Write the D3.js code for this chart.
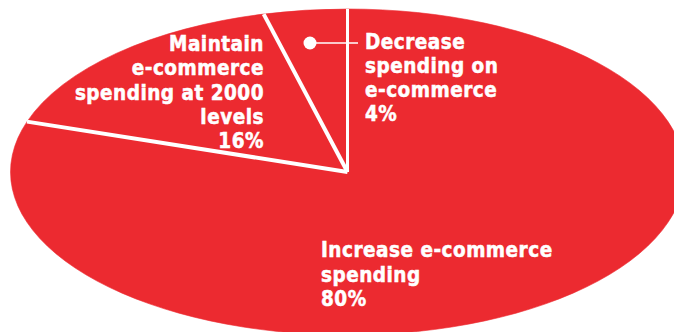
<!DOCTYPE html>
<html>
<head>
<meta charset="utf-8">
<script src="https://cdn.jsdelivr.net/npm/d3@7/dist/d3.min.js"></script>
<style>
  html, body { margin: 0; padding: 0; background: #fff; }
  svg { display: block; }
  .lbl { font-family: "DejaVu Sans Condensed", "DejaVu Sans", sans-serif; font-weight: bold; fill: #fff; stroke: #fff; stroke-width: 0.5; }
</style>
</head>
<body>
<svg id="chart" width="674" height="332"></svg>
<script>
// Survey answers: plans for e-commerce spending
const categories = ["Increase e-commerce spending", "Maintain e-commerce spending at 2000 levels", "Decrease spending on e-commerce"];
const shares = [80, 16, 4];
const labelLines = [
  ["Increase e-commerce", "spending", "80%"],
  ["Maintain", "e-commerce", "spending at 2000", "levels", "16%"],
  ["Decrease", "spending on", "e-commerce", "4%"]
];

const W = 674, H = 332;
const cx = 347.5, cy = 172, rx = 337, ry = 163;
const RED = "#EC2A30";

const svg = d3.select("#chart");

const pie = d3.pie().sort(null).value(d => d);
const arcs = pie(shares);

// Slices drawn on a unit circle, stretched into an ellipse
const arc = d3.arc().innerRadius(0).outerRadius(1);
const g = svg.append("g").attr("transform", `translate(${cx},${cy}) scale(${rx},${ry})`);
g.selectAll("path.slice")
  .data(arcs)
  .join("path")
  .attr("class", "slice")
  .attr("d", arc)
  .attr("fill", RED)
  .attr("stroke", RED)
  .attr("stroke-width", 0.6)
  .attr("vector-effect", "non-scaling-stroke");

// White separators along each slice boundary
const px = a => cx + rx * Math.sin(a);
const py = a => cy - ry * Math.cos(a);
svg.selectAll("line.sep")
  .data(arcs)
  .join("line")
  .attr("class", "sep")
  .attr("x1", cx).attr("y1", cy)
  .attr("x2", d => px(d.startAngle)).attr("y2", d => py(d.startAngle))
  .attr("stroke", "#fff")
  .attr("stroke-width", (d, i) => i === 0 ? 3 : 4)
  .attr("stroke-linecap", "butt");

// Labels
const fontSize = 20.5, lineH = 24.3;
function block(lines, x, y0, anchor) {
  const t = svg.append("text")
    .attr("class", "lbl")
    .attr("text-anchor", anchor)
    .attr("font-size", fontSize)
    .attr("letter-spacing", 0.5);
  lines.forEach((s, i) => {
    t.append("tspan").attr("x", x).attr("y", y0 + i * lineH).text(s);
  });
}
block(labelLines[0], 321, 257.3, "start");
block(labelLines[1], 264, 51, "end");
block(labelLines[2], 365, 48.5, "start");

// Leader from the small slice to its label
svg.append("line")
  .attr("x1", 310).attr("y1", 43).attr("x2", 358).attr("y2", 43)
  .attr("stroke", "#fff").attr("stroke-width", 1.6);
svg.append("circle")
  .attr("cx", 310).attr("cy", 43).attr("r", 6.5)
  .attr("fill", "#fff");
</script>
</body>
</html>
